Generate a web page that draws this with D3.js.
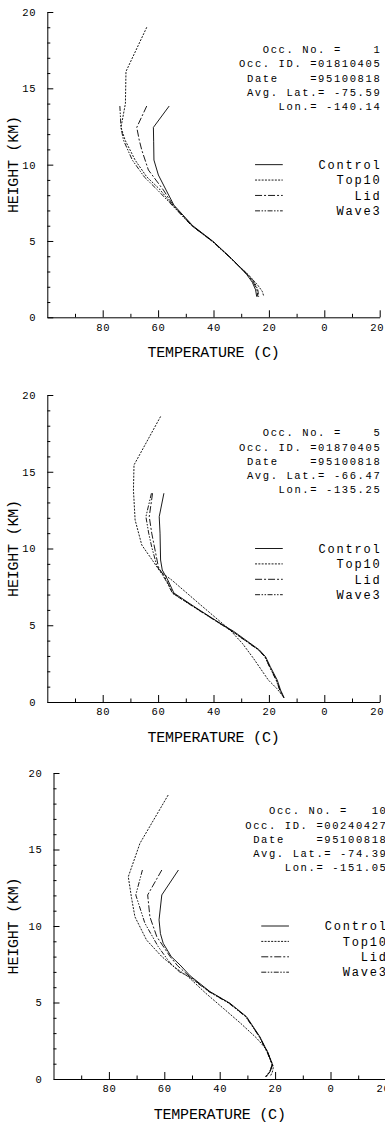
<!DOCTYPE html>
<html>
<head>
<meta charset="utf-8">
<script src="https://cdn.jsdelivr.net/npm/d3@7"></script>
<style>
  body { margin: 0; background: #fff; }
  text { font-family: "Liberation Mono", "DejaVu Sans Mono", monospace; fill: #000; }
</style>
</head>
<body>
<div id="chart"></div>
<script>
// Series (legend order) and their dash styles
const seriesNames = ['Control', 'Top10', 'Lid', 'Wave3'];
const dashes = [null, '2,1.3', '7,2,2,2', '5,1.5,1.5,1.5,1.5,1.5'];

// Header info for each occultation
const occNos = ['1', '5', '10'];
const occIds = ['01810405', '01870405', '00240427'];
const dates = ['95100818', '95100818', '95100818'];
const avgLats = ['-75.59', '-66.47', '-74.39'];
const avgLons = ['-140.14', '-135.25', '-151.05'];

// Axis ticks
const xMajor = [-80, -60, -40, -20, 0, 20];
const xMinor = [-90, -70, -50, -30, -10, 10];
const yMajor = [0, 5, 10, 15, 20];
const yMinor = [1, 2, 3, 4, 6, 7, 8, 9, 11, 12, 13, 14, 16, 17, 18, 19];

// Profiles: [temperature (C), height (km)]
// Occultation 1
const p1Control = [[-56.0,13.84],[-61.7,12.44],[-61.6,11.5],[-61.5,10.3],[-59.9,9.32],[-57.3,8.4],[-54.3,7.35],[-47.5,6.0],[-40.0,4.95],[-33.5,3.85],[-28.0,2.8],[-26.0,2.3],[-24.8,1.8],[-24.4,1.35]];
const p1Top10 = [[-64.1,19.0],[-71.6,16.1],[-71.8,14.0],[-73.4,12.44],[-71.9,11.6],[-68.3,10.3],[-64.1,9.2],[-59.5,8.4],[-55.0,7.4],[-47.8,6.0],[-40.3,4.95],[-33.7,3.85],[-27.2,2.75],[-24.0,2.1],[-22.4,1.7],[-21.8,1.35]];
const p1Lid = [[-64.1,13.84],[-67.7,12.44],[-66.8,11.6],[-65.9,10.96],[-63.5,9.65],[-58.1,8.34],[-54.6,7.35],[-47.7,6.0],[-40.1,4.95],[-33.6,3.85],[-27.8,2.8],[-25.6,2.3],[-24.3,1.8],[-24.0,1.35]];
const p1Wave3 = [[-73.8,13.84],[-73.4,12.44],[-72.5,11.6],[-69.3,10.3],[-65.0,9.2],[-60.0,8.3],[-55.0,7.35],[-47.9,6.0],[-40.2,4.95],[-33.6,3.85],[-27.6,2.8],[-25.2,2.3],[-24.0,1.8],[-23.7,1.35]];
// Occultation 5
const p2Control = [[-57.9,13.6],[-59.6,12.07],[-59.3,11.0],[-59.1,9.25],[-58.5,8.6],[-56.5,7.95],[-54.3,7.1],[-46.0,6.1],[-37.6,5.13],[-32.7,4.6],[-23.5,3.4],[-21.2,2.95],[-19.5,2.3],[-17.0,1.43],[-15.8,0.78],[-14.5,0.28]];
const p2Top10 = [[-59.1,18.6],[-68.7,15.44],[-68.9,13.8],[-68.3,11.86],[-65.9,10.23],[-61.7,9.14],[-59.3,8.5],[-55.1,7.95],[-44.5,6.3],[-34.0,4.69],[-29.5,3.8],[-25.6,2.85],[-20.2,1.43],[-17.2,0.89],[-14.5,0.28]];
const p2Lid = [[-62.0,13.6],[-63.2,12.07],[-62.3,11.0],[-61.1,9.9],[-59.9,8.8],[-57.0,7.95],[-54.6,7.08],[-46.2,6.1],[-37.8,5.13],[-33.0,4.58],[-23.7,3.39],[-21.4,2.95],[-19.7,2.3],[-17.3,1.43],[-16.0,0.78],[-14.6,0.28]];
const p2Wave3 = [[-62.4,13.6],[-64.4,12.07],[-63.4,11.0],[-62.3,10.1],[-60.5,8.9],[-57.3,7.95],[-54.8,7.08],[-46.4,6.1],[-37.9,5.13],[-33.1,4.58],[-23.8,3.39],[-21.5,2.95],[-19.8,2.3],[-17.4,1.43],[-16.1,0.78],[-14.7,0.28]];
// Occultation 10
const p3Control = [[-54.9,13.66],[-60.9,12.03],[-61.9,10.4],[-61.4,9.5],[-60.4,8.87],[-57.5,8.0],[-54.3,7.45],[-50.7,6.75],[-43.5,5.71],[-36.3,4.95],[-30.3,4.07],[-25.5,2.76],[-22.5,1.68],[-20.9,0.92],[-21.8,0.48],[-23.3,0.15]];
const p3Top10 = [[-58.6,18.56],[-68.8,15.4],[-73.0,13.22],[-71.8,11.8],[-70.6,10.6],[-66.4,9.08],[-60.9,8.0],[-56.3,7.3],[-51.5,6.7],[-45.0,5.6],[-38.7,4.62],[-32.5,3.65],[-26.6,2.66],[-23.0,1.9],[-20.6,0.8],[-21.0,0.45],[-21.8,0.15]];
const p3Lid = [[-60.9,13.66],[-66.0,12.03],[-65.2,10.6],[-62.7,9.3],[-57.9,8.0],[-55.2,7.4],[-51.0,6.72],[-43.7,5.71],[-36.5,4.95],[-30.5,4.07],[-25.6,2.76],[-22.6,1.68],[-21.0,0.92],[-21.9,0.48],[-23.1,0.15]];
const p3Wave3 = [[-67.9,13.66],[-70.3,12.03],[-67.0,10.18],[-62.2,8.65],[-58.0,7.6],[-54.5,7.0],[-51.2,6.7],[-43.9,5.71],[-36.7,4.95],[-30.6,4.07],[-25.7,2.76],[-22.7,1.68],[-21.1,0.92],[-22.0,0.48],[-23.5,0.15]];

const profiles = [
    [p1Control, p1Top10, p1Lid, p1Wave3],
    [p2Control, p2Top10, p2Lid, p2Wave3],
    [p3Control, p3Top10, p3Lid, p3Wave3]
];

// Page and panel placement
const width = 385;
const height = 1122;
const plotW = 332.4;
const panels = [
    { left: 47.3, top: 12, bottom: 317.3 },
    { left: 47.3, top: 395, bottom: 702 },
    { left: 53.5, top: 773, bottom: 1079 }
];

const svg = d3.select('#chart')
    .append('svg')
    .attr('width', width)
    .attr('height', height)
    .style('background-color', '#fff');

panels.forEach(function(p, i) {
    const x = d3.scaleLinear().domain([-100, 20]).range([p.left, p.left + plotW]);
    const y = d3.scaleLinear().domain([0, 20]).range([p.bottom, p.top]);
    const g = svg.append('g');

    // y axis, ticks pointing inward
    const yAx = g.append('g')
        .attr('transform', `translate(${p.left},0)`)
        .call(d3.axisLeft(y).tickValues(yMajor).tickSize(-6).tickSizeOuter(0).tickPadding(11));
    g.append('g')
        .attr('transform', `translate(${p.left},0)`)
        .call(d3.axisLeft(y).tickValues(yMinor).tickSize(-3).tickFormat(''))
        .select('.domain').remove();

    // x axis (labels show magnitude only, as on the original plot)
    const xAx = g.append('g')
        .attr('transform', `translate(0,${p.bottom})`)
        .call(d3.axisBottom(x).tickValues(xMajor).tickSize(-7).tickSizeOuter(0).tickPadding(6)
            .tickFormat(d => Math.abs(d)));
    g.append('g')
        .attr('transform', `translate(0,${p.bottom})`)
        .call(d3.axisBottom(x).tickValues(xMinor).tickSize(-3.5).tickFormat(''))
        .select('.domain').remove();

    g.selectAll('.tick line, .domain').attr('stroke', '#000').attr('stroke-width', 1);
    [yAx, xAx].forEach(a => a.selectAll('text')
        .attr('font-family', '"Liberation Mono", monospace')
        .attr('font-size', 10.5)
        .style('letter-spacing', '0.7px'));
    // last label sits a little left of its tick, as in the original
    xAx.selectAll('.tick text').filter(d => d === 20).attr('dx', -3);

    // axis titles
    g.append('text')
        .attr('x', x(-40))
        .attr('y', p.bottom + 40)
        .attr('text-anchor', 'middle')
        .attr('font-size', 15)
        .style('letter-spacing', '-0.2px')
        .text('TEMPERATURE (C)');
    g.append('text')
        .attr('transform', `translate(17.5,${y(10)}) rotate(-90)`)
        .attr('text-anchor', 'middle')
        .attr('font-size', 15)
        .style('letter-spacing', '-0.2px')
        .text('HEIGHT (KM)');

    // profile lines
    const line = d3.line().x(d => x(d[0])).y(d => y(d[1]));
    profiles[i].forEach(function(series, s) {
        g.append('path')
            .datum(series)
            .attr('d', line)
            .attr('fill', 'none')
            .attr('stroke', '#000')
            .attr('stroke-width', 0.9)
            .attr('stroke-dasharray', dashes[s]);
    });

    // occultation info block
    const info = [
        'Occ. No. =' + occNos[i].padStart(5),
        'Occ. ID. =' + occIds[i],
        ' Date    =' + dates[i],
        'Avg. Lat.= ' + avgLats[i],
        'Lon.= ' + avgLons[i]
    ];
    g.selectAll('.info')
        .data(info)
        .enter()
        .append('text')
        .attr('x', x(20) + 1.6)
        .attr('y', (d, k) => y(17.3) + k * 14.2)
        .attr('text-anchor', 'end')
        .attr('font-size', 10.5)
        .style('letter-spacing', '1.6px')
        .style('white-space', 'pre')
        .text(d => d);

    // legend
    seriesNames.forEach(function(name, s) {
        const ly = y(10) + s * 15.4;
        g.append('line')
            .attr('x1', x(-25)).attr('x2', x(-15))
            .attr('y1', ly).attr('y2', ly)
            .attr('stroke', '#000')
            .attr('stroke-width', 0.9)
            .attr('stroke-dasharray', dashes[s]);
        g.append('text')
            .attr('x', x(20) + 1.8)
            .attr('y', ly)
            .attr('dy', '0.35em')
            .attr('text-anchor', 'end')
            .attr('font-size', 12)
            .style('letter-spacing', '1.8px')
            .text(name);
    });
});
</script>
</body>
</html>
